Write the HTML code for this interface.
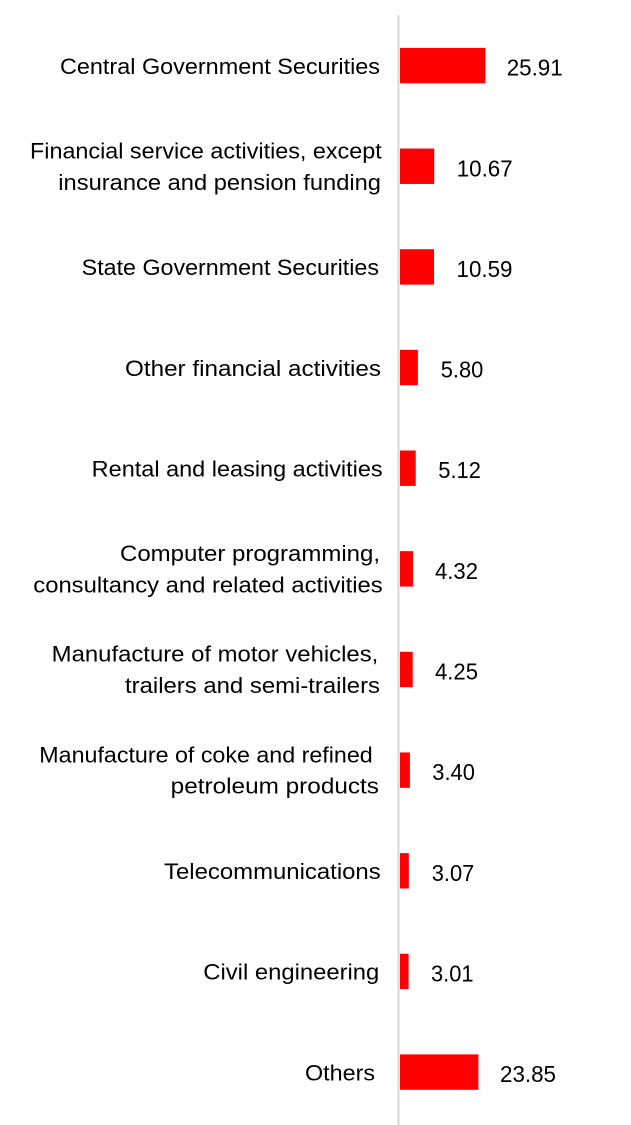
<!DOCTYPE html>
<html>
<head>
<meta charset="utf-8">
<style>
  html, body { margin: 0; padding: 0; background: #ffffff; }
  body { width: 631px; height: 1125px; overflow: hidden; }
  svg { display: block; }
  text { font-family: "Liberation Sans", Arial, sans-serif; fill: #000; }
  .lab { font-size: 22.5px; }
  .val { font-size: 23.5px; }
</style>
</head>
<body>
<svg width="631" height="1125" viewBox="0 0 631 1125" xmlns="http://www.w3.org/2000/svg">
  <rect x="0" y="0" width="631" height="1125" fill="#ffffff"/>
  <!-- axis -->
  <rect x="397.5" y="15" width="2" height="1110" fill="#d6d6d6"/>

  <!-- bars -->
  <g fill="#ff0000">
    <rect x="400" y="47.9" width="85.3" height="35.4"/>
    <rect x="400" y="148.55" width="34.2" height="35.4"/>
    <rect x="400" y="249.2" width="34.0" height="35.4"/>
    <rect x="400" y="349.85" width="17.9" height="35.4"/>
    <rect x="400" y="450.5" width="15.7" height="35.4"/>
    <rect x="400" y="551.15" width="13.0" height="35.4"/>
    <rect x="400" y="651.8" width="12.7" height="35.4"/>
    <rect x="400" y="752.45" width="9.9" height="35.4"/>
    <rect x="400" y="853.1" width="8.8" height="35.4"/>
    <rect x="400" y="953.75" width="8.6" height="35.4"/>
    <rect x="400" y="1054.4" width="78.4" height="35.4"/>
  </g>

  <!-- value labels -->
  <text class="val" x="506.7" y="75.6" textLength="56" lengthAdjust="spacingAndGlyphs">25.91</text>
  <text class="val" x="456.7" y="176.25" textLength="56" lengthAdjust="spacingAndGlyphs">10.67</text>
  <text class="val" x="456.5" y="276.9" textLength="56" lengthAdjust="spacingAndGlyphs">10.59</text>
  <text class="val" x="440.7" y="377.55" textLength="42.6" lengthAdjust="spacingAndGlyphs">5.80</text>
  <text class="val" x="438.3" y="478.2" textLength="42.6" lengthAdjust="spacingAndGlyphs">5.12</text>
  <text class="val" x="435" y="578.85" textLength="43" lengthAdjust="spacingAndGlyphs">4.32</text>
  <text class="val" x="435" y="679.5" textLength="43" lengthAdjust="spacingAndGlyphs">4.25</text>
  <text class="val" x="432.3" y="780.15" textLength="42.6" lengthAdjust="spacingAndGlyphs">3.40</text>
  <text class="val" x="431.7" y="880.8" textLength="42.6" lengthAdjust="spacingAndGlyphs">3.07</text>
  <text class="val" x="431" y="981.45" textLength="42.6" lengthAdjust="spacingAndGlyphs">3.01</text>
  <text class="val" x="500" y="1082.1" textLength="56" lengthAdjust="spacingAndGlyphs">23.85</text>

  <!-- category labels -->
  <text class="lab" x="60" y="73.9" textLength="320" lengthAdjust="spacingAndGlyphs">Central Government Securities</text>

  <text class="lab" x="30" y="158.5" textLength="351.7" lengthAdjust="spacingAndGlyphs">Financial service activities, except</text>
  <text class="lab" x="58.3" y="189.9" textLength="322.7" lengthAdjust="spacingAndGlyphs">insurance and pension funding</text>

  <text class="lab" x="81.7" y="275.2" textLength="297.3" lengthAdjust="spacingAndGlyphs">State Government Securities</text>

  <text class="lab" x="125" y="375.85" textLength="256" lengthAdjust="spacingAndGlyphs">Other financial activities</text>

  <text class="lab" x="91.7" y="476.5" textLength="291" lengthAdjust="spacingAndGlyphs">Rental and leasing activities</text>

  <text class="lab" x="120" y="561" textLength="260" lengthAdjust="spacingAndGlyphs">Computer programming,</text>
  <text class="lab" x="33.3" y="592.5" textLength="349.4" lengthAdjust="spacingAndGlyphs">consultancy and related activities</text>

  <text class="lab" x="51.7" y="661.7" textLength="326.6" lengthAdjust="spacingAndGlyphs">Manufacture of motor vehicles,</text>
  <text class="lab" x="125" y="692.9" textLength="255" lengthAdjust="spacingAndGlyphs">trailers and semi-trailers</text>

  <text class="lab" x="39.3" y="762.3" textLength="333.4" lengthAdjust="spacingAndGlyphs">Manufacture of coke and refined</text>
  <text class="lab" x="170.7" y="793.7" textLength="208.3" lengthAdjust="spacingAndGlyphs">petroleum products</text>

  <text class="lab" x="164" y="879.1" textLength="216.7" lengthAdjust="spacingAndGlyphs">Telecommunications</text>

  <text class="lab" x="203.3" y="979.7" textLength="176" lengthAdjust="spacingAndGlyphs">Civil engineering</text>

  <text class="lab" x="305" y="1080.4" textLength="70" lengthAdjust="spacingAndGlyphs">Others</text>
</svg>
</body>
</html>
